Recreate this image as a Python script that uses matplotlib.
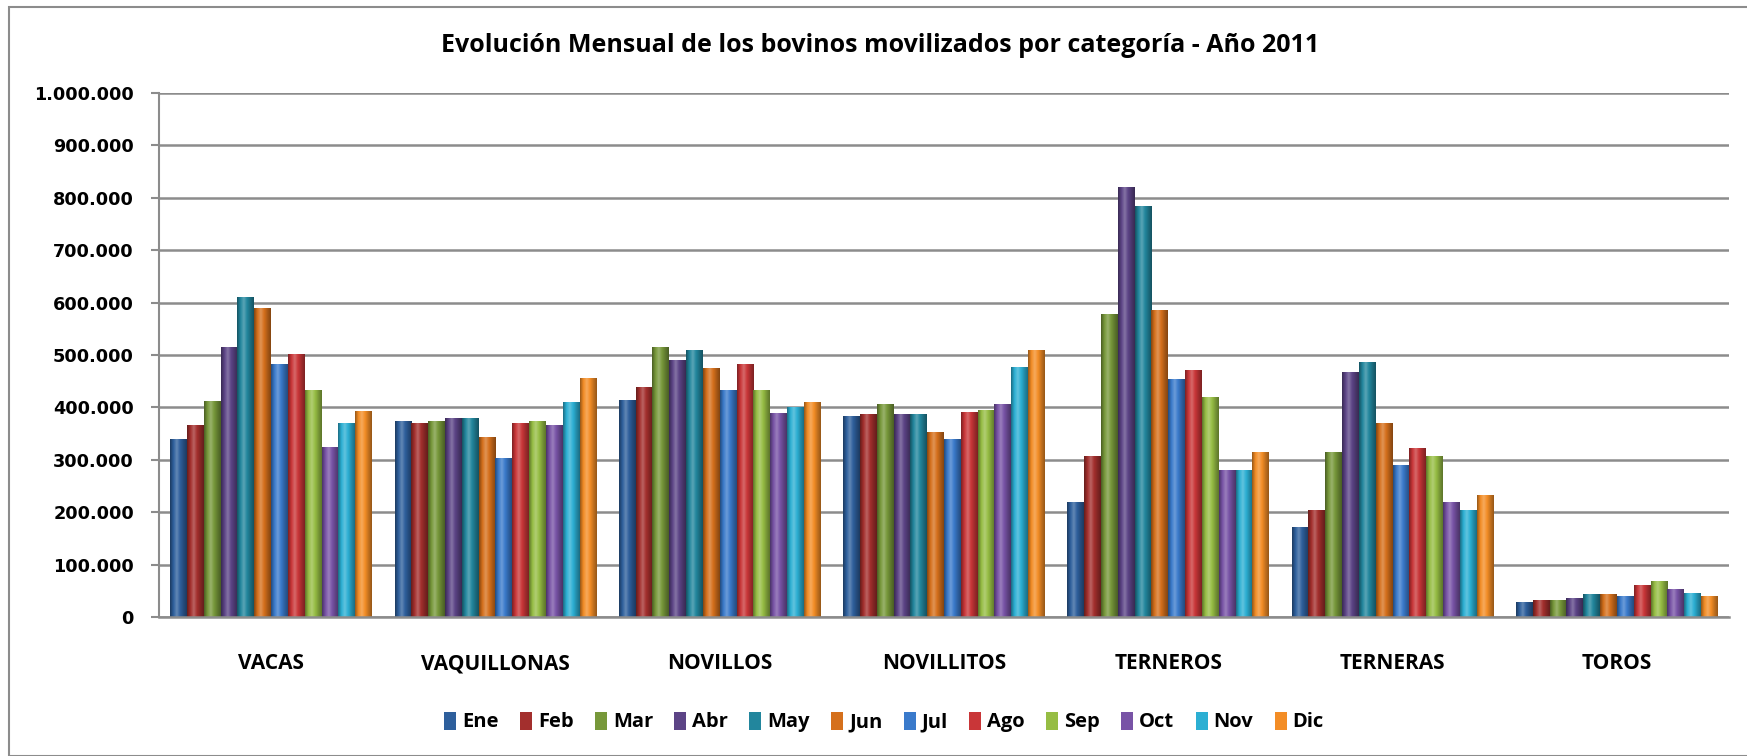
import numpy as np
import matplotlib
matplotlib.use('Agg')
import matplotlib.pyplot as plt
from matplotlib.colors import LinearSegmentedColormap, to_rgb
from matplotlib.patches import Rectangle
from matplotlib.ticker import FuncFormatter

categorias = ['VACAS', 'VAQUILLONAS', 'NOVILLOS', 'NOVILLITOS', 'TERNEROS', 'TERNERAS', 'TOROS']
meses = ['Ene', 'Feb', 'Mar', 'Abr', 'May', 'Jun', 'Jul', 'Ago', 'Sep', 'Oct', 'Nov', 'Dic']

# valores por mes, en el orden de categorias
ene = [339000, 375000, 414000, 383000, 219000, 171000, 29000]
feb = [366000, 370000, 438000, 387000, 307000, 204000, 32000]
mar = [413000, 375000, 515000, 406000, 578000, 314000, 32000]
abr = [515000, 379000, 490000, 387000, 821000, 468000, 36000]
may = [610000, 379000, 510000, 387000, 784000, 487000, 44000]
jun = [589000, 343000, 475000, 354000, 585000, 370000, 44000]
jul = [482000, 303000, 434000, 339000, 454000, 291000, 40000]
ago = [501000, 370000, 483000, 391000, 471000, 322000, 61000]
sep = [434000, 375000, 434000, 395000, 419000, 307000, 69000]
oct_ = [324000, 366000, 390000, 406000, 280000, 219000, 53000]
nov = [370000, 410000, 401000, 478000, 280000, 204000, 46000]
dic = [394000, 457000, 410000, 509000, 314000, 233000, 40000]
series = [ene, feb, mar, abr, may, jun, jul, ago, sep, oct_, nov, dic]

colores = ['#2e5f9c', '#a32f2d', '#77983a', '#5c4486', '#22869d', '#d5701c',
           '#3a7acb', '#c93638', '#96bd44', '#7853a6', '#2cafd3', '#f38d26']

ft = ['Open Sans']

fig = plt.figure(figsize=(17.47, 7.56), dpi=100)
ax = fig.add_axes([159 / 1747, 1 - 617 / 756, (1729 - 159) / 1747, (617 - 93) / 756])

# borde exterior del grafico
fig.patches.append(Rectangle((9 / 1747, 0), 1.2, 1 - 7 / 756, transform=fig.transFigure,
                             fill=False, edgecolor='#8c8c8c', lw=1.5))

x = np.arange(len(categorias))
n = len(meses)
ancho = 0.9 / n

def cmap_barra(c):
    r = np.array(to_rgb(c))
    osc = r * 0.62
    cla = np.clip(r + (1 - r) * 0.25, 0, 1)
    return LinearSegmentedColormap.from_list('b', [osc, r, cla, r, r * 0.8, osc])

grad = np.linspace(0, 1, 64).reshape(1, -1)
for i, vals in enumerate(series):
    pos = x - 0.45 + ancho * (i + 0.5)
    bars = ax.bar(pos, vals, width=ancho, color=colores[i], label=meses[i], zorder=3,
                  linewidth=0)
    cm = cmap_barra(colores[i])
    for b in bars:
        im = ax.imshow(grad, cmap=cm, aspect='auto', zorder=3.5,
                       extent=[b.get_x(), b.get_x() + b.get_width(), 0, b.get_height()])
        im.set_clip_path(b)

ax.set_xlim(-0.5, len(categorias) - 0.5)
ax.set_ylim(0, 1000000)
ax.set_yticks(np.arange(0, 1000001, 100000))
ax.yaxis.set_major_formatter(FuncFormatter(lambda v, p: f'{int(v):,}'.replace(',', '.')))
ax.grid(axis='y', color='#8c8c8c', lw=1.8, zorder=1)
for s in ['top', 'right']:
    ax.spines[s].set_visible(False)
ax.spines['left'].set_color('#8c8c8c')
ax.spines['left'].set_linewidth(1.5)
ax.spines['bottom'].set_color('#8c8c8c')
ax.spines['bottom'].set_linewidth(1.8)
ax.spines['bottom'].set_zorder(5)
ax.tick_params(axis='y', length=6, color='#8c8c8c', width=1.5, pad=12)
ax.tick_params(axis='x', length=0, pad=26)
for t in ax.get_yticklabels():
    t.set_fontfamily('DejaVu Sans')
    t.set_fontweight('bold')
    t.set_fontsize(12.7)
ax.set_xticks(x)
ax.set_xticklabels(categorias, fontsize=15, fontweight='bold', family=ft)

fig.text(880 / 1747, 1 - 45 / 756, 'Evolución Mensual de los bovinos movilizados por categoría - Año 2011',
         ha='center', va='center', fontsize=18, fontweight='bold', family=ft)

fig.legend(loc='center', bbox_to_anchor=(884 / 1747, 1 - 722 / 756), ncol=12, frameon=False,
           prop={'family': ft, 'weight': 'bold', 'size': 14.5}, handlelength=0.6, handleheight=1.0,
           handletextpad=0.3, columnspacing=1.05)

fig.savefig('out.png', dpi=100)
